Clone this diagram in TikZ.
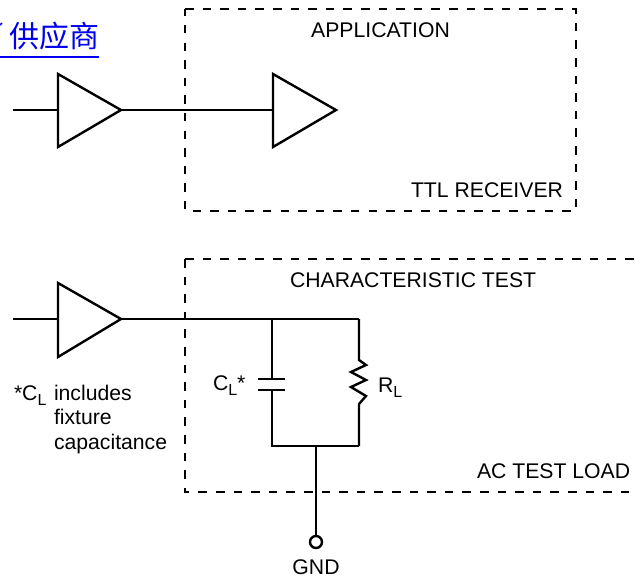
\documentclass[tikz,border=0pt]{standalone}
\usepackage{fontspec}
\setmainfont{Liberation Sans}
\newfontfamily\cjkfont{Noto Sans CJK SC}
\definecolor{linkblue}{RGB}{0,0,238}
\tikzset{
  wire/.style={line width=2.4pt,line join=miter},
  stub/.style={line width=2.8pt},
  boxline/.style={line width=2.6pt,dash pattern=on 8.5pt off 9.1pt},
  lab/.style={anchor=base west,inner sep=0pt,outer sep=0pt,font=\fontsize{21.2}{24}\selectfont},
  labc/.style={lab,anchor=base},
}
\newcommand{\subL}{\raisebox{-5pt}{\fontsize{16}{16}\selectfont L}}
\begin{document}
\begin{tikzpicture}[x=1pt,y=-1pt]
\useasboundingbox (0,0) rectangle (636,582);
\clip (0,0) rectangle (636,582);
% link text
\node[anchor=base west,inner sep=0pt,text=linkblue,font=\fontsize{30}{32}\cjkfont\selectfont] (link) at (9,47) {供应商};
\coordinate (ulA) at (0,57); \coordinate (ulB) at (99,57);
\draw[linkblue,line width=2.4pt] (ulA) -- (ulB);
\coordinate (tickA) at (0,25); \coordinate (tickB) at (2,23);
\draw[linkblue,line width=1.6pt] (tickA) -- (tickB);
% dashed boxes
\coordinate (b1a) at (185,9); \coordinate (b1b) at (576,9); \coordinate (b1c) at (576,211); \coordinate (b1d) at (185,211);
\draw[boxline] (b1a) -- (b1b) -- (b1c) -- (b1d) -- cycle;
\coordinate (b2a) at (645,259); \coordinate (b2b) at (185,259); \coordinate (b2c) at (185,492); \coordinate (b2d) at (645,492);
\draw[boxline] (b2b) -- (b2a);
\draw[boxline] (b2b) -- (b2c) -- (b2d);
% top row
\coordinate (in1) at (13,110);
\coordinate (t1in) at (58,110); \coordinate (t1u) at (58,74); \coordinate (t1d) at (58,147); \coordinate (t1o) at (121,110);
\coordinate (t1s) at (147,110);
\coordinate (t2in) at (273,110); \coordinate (t2u) at (273,74); \coordinate (t2d) at (273,147); \coordinate (t2o) at (336,110);
\draw[wire] (t1u) -- (t1o) -- (t1d) -- cycle;
\draw[wire] (t2u) -- (t2o) -- (t2d) -- cycle;
\draw[wire] (in1) -- (t1in);
\draw[wire] (t1o) -- (t2in);
\draw[stub] (t1o) -- (t1s);
% bottom row
\coordinate (in2) at (13,319);
\coordinate (t3in) at (58,319); \coordinate (t3u) at (58,283); \coordinate (t3d) at (58,357); \coordinate (t3o) at (121,319);
\coordinate (t3s) at (147,319);
\coordinate (jC) at (272,319); \coordinate (cnrR) at (359,319);
\draw[wire] (t3u) -- (t3o) -- (t3d) -- cycle;
\draw[wire] (in2) -- (t3in);
\draw[wire] (t3o) -- (jC) -- (cnrR);
\draw[stub] (t3o) -- (t3s);
% capacitor
\coordinate (p1) at (272,379); \coordinate (p2) at (272,390);
\coordinate (p1l) at (258,379); \coordinate (p1r) at (285,379);
\coordinate (p2l) at (258,390); \coordinate (p2r) at (285,390);
\coordinate (cnrL) at (272,446); \coordinate (cnrB) at (359,446); \coordinate (jG) at (316,446);
\draw[wire] (jC) -- (p1);
\draw[wire] (p1l) -- (p1r);
\draw[wire] (p2l) -- (p2r);
\draw[wire] (p2) -- (cnrL) -- (cnrB);
% resistor
\draw[wire] (cnrR) -- (359,360) -- (366,365) -- (351,372) -- (366,380) -- (351,387) -- (366,396) -- (359,404) -- (cnrB);
% ground
\node[circle,draw,line width=2.4pt,minimum size=12pt,inner sep=0pt] (gnd) at (316,542) {};
\draw[wire] (jG) -- (gnd);
% labels
\node[labc] (lApp) at (380.5,37) {APPLICATION};
\node[lab] (lTtl) at (411,197) {TTL RECEIVER};
\node[lab] (lChar) at (290,287) {CHARACTERISTIC TEST};
\node[lab] (lAc) at (477,478) {AC TEST LOAD};
\node[labc] (lGnd) at (316,574) {GND};
\node[lab] (lCl) at (213,390) {C\subL*};
\node[lab] (lRl) at (378,392) {R\subL};
\node[lab] (lNote) at (14,400) {*C\subL};
\node[lab] (lInc) at (54,400) {includes};
\node[lab] (lFix) at (54,424) {fixture};
\node[lab] (lCap) at (54,449) {capacitance};
\end{tikzpicture}
\end{document}
